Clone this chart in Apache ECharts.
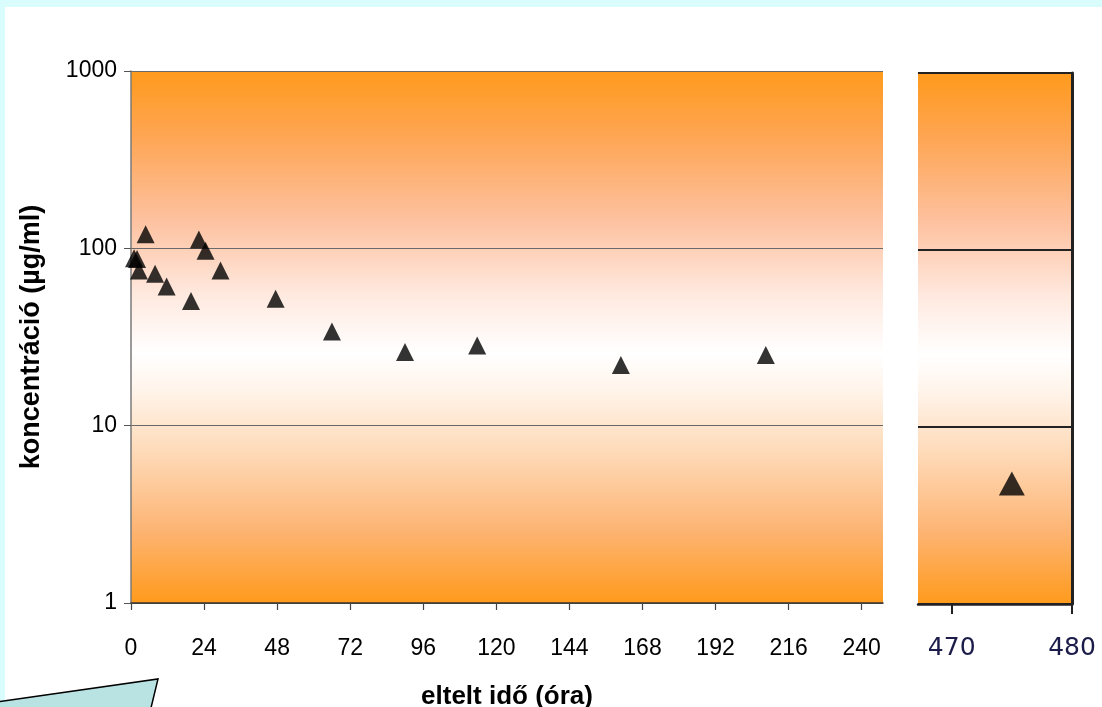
<!DOCTYPE html>
<html>
<head>
<meta charset="utf-8">
<script src="https://cdn.jsdelivr.net/npm/echarts@6/dist/echarts.min.js"></script>
<style>
  html, body { margin: 0; padding: 0; }
  body { width: 1102px; height: 707px; background: #d9fcfc; position: relative; overflow: hidden; }
  #sheet { position: absolute; left: 5px; top: 7px; width: 1120px; height: 720px; background: #ffffff; }
  #chart { position: absolute; left: 0; top: 0; width: 1102px; height: 707px; }
</style>
</head>
<body>
<div id="sheet"></div>
<div id="chart"></div>
<script>
// Sampling times (hours) and measured concentrations (µg/ml)
const hoursEarly = [1.0, 2.0, 2.6, 4.8, 7.9, 11.7, 19.7, 22.3, 24.5, 29.4, 47.5, 66.0, 90.0, 113.7, 160.9, 208.5];
const concEarly  = [88, 87, 75, 120, 72, 61, 50.5, 112, 97, 75, 52, 34, 26, 28.3, 22, 25];
const hoursLate  = [475];
const concLate   = [4.8];

// Axis tick labels
const tickHoursLeft  = [0, 24, 48, 72, 96, 120, 144, 168, 192, 216, 240];
const tickHoursRight = [470, 480];
const tickConc       = [1, 10, 100, 1000];

const xTitle = 'eltelt idő (óra)';
const yTitle = 'koncentráció (µg/ml)';

function panelFill() {
  return new echarts.graphic.LinearGradient(0, 0, 0, 1, [
    { offset: 0.00, color: '#ff9a1c' },
    { offset: 0.12, color: '#fea552' },
    { offset: 0.28, color: '#fdc19f' },
    { offset: 0.42, color: '#ffe9df' },
    { offset: 0.53, color: '#ffffff' },
    { offset: 0.60, color: '#fff4ea' },
    { offset: 0.72, color: '#fed9b6' },
    { offset: 0.86, color: '#fdb575' },
    { offset: 1.00, color: '#ff9a1c' }
  ]);
}

const chart = echarts.init(document.getElementById('chart'), null, { renderer: 'canvas' });

const triangles = (xs, ys) => xs.map((x, i) => [x, ys[i]]);
const plain = v => String(v);

chart.setOption({
  animation: false,
  backgroundColor: 'transparent',
  textStyle: { fontFamily: 'Arial, "Liberation Sans", sans-serif' },
  grid: [
    { left: 131, top: 71, width: 752, height: 532, show: true, borderWidth: 0,
      outerBoundsMode: 'none', containLabel: false, backgroundColor: panelFill() },
    { left: 918, top: 73, width: 154, height: 531, show: true, borderWidth: 0,
      outerBoundsMode: 'none', containLabel: false, backgroundColor: panelFill() }
  ],
  xAxis: [
    {
      gridIndex: 0, type: 'value', min: 0, max: 247,
      name: xTitle, nameLocation: 'middle', nameGap: 81,
      nameTextStyle: { fontSize: 26, fontWeight: 'bold', color: '#000' },
      axisLine: { show: true, lineStyle: { color: '#333', width: 1.5 } },
      axisTick: { show: true, customValues: tickHoursLeft, length: 7, lineStyle: { color: '#444', width: 1.2 } },
      axisLabel: { customValues: tickHoursLeft, fontSize: 23, color: '#000', margin: 34, formatter: plain },
      splitLine: { show: false }
    },
    {
      gridIndex: 1, type: 'value', min: 467.2, max: 480,
      axisLine: { show: true, lineStyle: { color: '#222', width: 2.5 } },
      axisTick: { show: true, customValues: tickHoursRight, length: 10, lineStyle: { color: '#222', width: 2 } },
      axisLabel: { customValues: tickHoursRight, fontSize: 25, color: '#1c1c4a', margin: 32, formatter: plain,
                   fontFamily: '"DejaVu Sans", Verdana, sans-serif' },
      splitLine: { show: false }
    }
  ],
  yAxis: [
    {
      gridIndex: 0, type: 'log', logBase: 10, min: 1, max: 1000,
      name: yTitle, nameLocation: 'middle', nameGap: 86, nameRotate: 90,
      nameTextStyle: { fontSize: 27, fontWeight: 'bold', color: '#000' },
      axisLine: { show: true, lineStyle: { color: '#7a7a7a', width: 1.5 } },
      axisTick: { show: true, customValues: tickConc, length: 7, lineStyle: { color: '#555' } },
      axisLabel: { customValues: tickConc, fontSize: 23, color: '#000', margin: 14, formatter: plain },
      splitLine: { show: true, lineStyle: { color: '#6a6a6a', width: 1.2 } }
    },
    {
      gridIndex: 1, type: 'log', logBase: 10, min: 1, max: 1000, position: 'right',
      axisLine: { show: true, lineStyle: { color: '#222', width: 3 } },
      axisTick: { show: false },
      axisLabel: { show: false },
      splitLine: { show: true, lineStyle: { color: '#222', width: 2.2 } }
    }
  ],
  series: [
    {
      type: 'scatter', xAxisIndex: 0, yAxisIndex: 0,
      symbol: 'triangle', symbolSize: 18,
      itemStyle: { color: '#000' },
      data: triangles(hoursEarly, concEarly)
    },
    {
      type: 'scatter', xAxisIndex: 1, yAxisIndex: 1,
      symbol: 'triangle', symbolSize: [26, 24],
      itemStyle: { color: '#000' },
      data: triangles(hoursLate, concLate)
    }
  ],
  graphic: [
    {
      type: 'polygon', z: 10,
      shape: { points: [[-3, 702], [158, 679], [150, 712], [-3, 712]] },
      style: { fill: '#b9e2e2', stroke: '#000', lineWidth: 1.5 }
    }
  ]
});
</script>
</body>
</html>
